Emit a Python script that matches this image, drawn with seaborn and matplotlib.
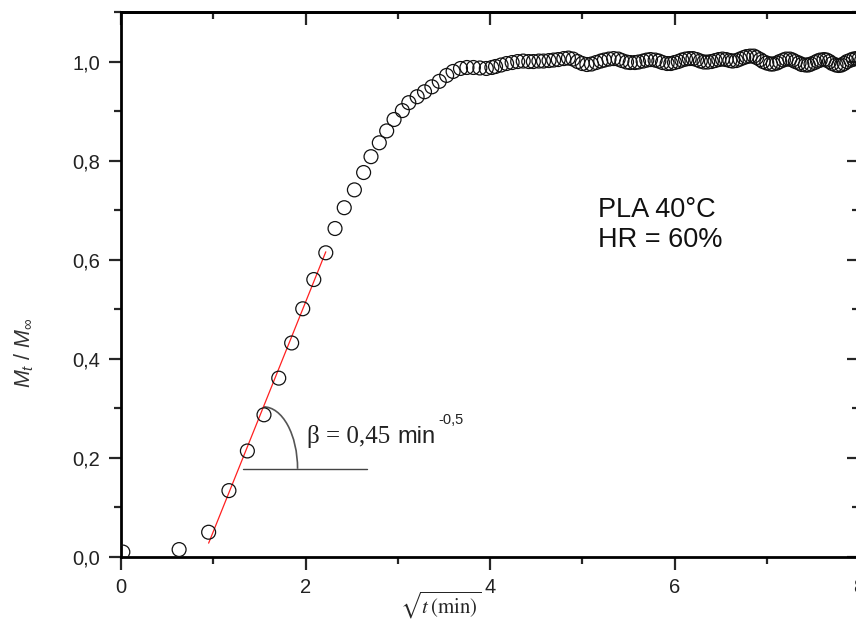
# Sorption kinetics of PLA at 40 C, HR = 60 %
# Mt/Minf against sqrt(t), with a linear fit on the first part

import matplotlib
matplotlib.use('Agg')
import matplotlib.pyplot as plt
from matplotlib.patches import Arc
from matplotlib.ticker import MultipleLocator, FuncFormatter
import seaborn as sns


# sqrt(t) values in min^0.5
sqrt_t = [
    0.02, 0.63, 0.95, 1.17, 1.37, 1.55, 1.71, 1.85, 1.97, 2.09,
    2.22, 2.32, 2.42, 2.53, 2.63, 2.71, 2.80, 2.88, 2.96, 3.05,
    3.12, 3.21, 3.29, 3.37, 3.45, 3.53, 3.60, 3.68, 3.75, 3.82,
    3.89, 3.96, 4.02, 4.06, 4.12, 4.18, 4.24, 4.30, 4.36, 4.42,
    4.47, 4.53, 4.58, 4.64, 4.69, 4.74, 4.80, 4.85, 4.90, 4.95,
    5.00, 5.05, 5.10, 5.15, 5.20, 5.24, 5.29, 5.34, 5.39, 5.43,
    5.48, 5.52, 5.57, 5.61, 5.66, 5.70, 5.74, 5.79, 5.83, 5.87,
    5.92, 5.96, 6.00, 6.04, 6.08, 6.12, 6.16, 6.20, 6.24, 6.28,
    6.32, 6.36, 6.40, 6.44, 6.48, 6.52, 6.56, 6.60, 6.63, 6.67,
    6.71, 6.75, 6.78, 6.82, 6.86, 6.89, 6.93, 6.96, 7.00, 7.04,
    7.07, 7.11, 7.14, 7.18, 7.21, 7.25, 7.28, 7.31, 7.35, 7.38,
    7.42, 7.45, 7.48, 7.52, 7.55, 7.58, 7.62, 7.65, 7.68, 7.71,
    7.75, 7.78, 7.81, 7.84, 7.87, 7.91, 7.94, 7.97, 8.00, 8.03,
]

# Mt / Minf
mt_minf = [
    0.010, 0.015, 0.050, 0.134, 0.214, 0.287, 0.361, 0.432, 0.501, 0.560,
    0.614, 0.663, 0.705, 0.741, 0.776, 0.808, 0.836, 0.860, 0.883, 0.901,
    0.917, 0.929, 0.939, 0.949, 0.960, 0.972, 0.980, 0.986, 0.988, 0.988,
    0.987, 0.986, 0.988, 0.990, 0.993, 0.996, 0.998, 1.000, 1.001, 1.000,
    1.000, 1.001, 1.001, 1.002, 1.003, 1.004, 1.006, 1.007, 1.005, 1.000,
    0.996, 0.994, 0.995, 0.998, 1.001, 1.003, 1.005, 1.006, 1.005, 1.002,
    0.999, 0.998, 0.998, 0.999, 1.001, 1.003, 1.004, 1.003, 1.001, 0.998,
    0.996, 0.996, 0.998, 1.000, 1.003, 1.005, 1.006, 1.006, 1.004, 1.001,
    0.999, 0.999, 1.000, 1.002, 1.004, 1.005, 1.004, 1.002, 1.001, 1.002,
    1.005, 1.008, 1.010, 1.011, 1.011, 1.008, 1.004, 1.000, 0.997, 0.995,
    0.995, 0.997, 1.000, 1.003, 1.005, 1.005, 1.003, 1.000, 0.997, 0.994,
    0.993, 0.993, 0.995, 0.998, 1.001, 1.003, 1.004, 1.003, 1.000, 0.996,
    0.993, 0.992, 0.993, 0.996, 1.000, 1.003, 1.005, 1.006, 1.005, 1.003,
]

# linear fit end points
fit_x = [0.95, 2.22]
fit_y = [0.028, 0.616]

x_ticks = [0, 2, 4, 6, 8]
y_ticks = [0.0, 0.2, 0.4, 0.6, 0.8, 1.0]


def comma(v, pos):
    return f'{v:.1f}'.replace('.', ',')


def main():
    sns.set_style('ticks')
    plt.rcParams['font.family'] = ['Liberation Sans', 'DejaVu Sans']
    plt.rcParams['mathtext.fontset'] = 'custom'
    plt.rcParams['mathtext.rm'] = 'Liberation Sans'
    plt.rcParams['mathtext.it'] = 'Liberation Sans:italic'

    fig = plt.figure(figsize=(8.56, 6.19), dpi=100)
    ax = fig.add_axes([121 / 856, 62 / 619, 738 / 856, 545 / 619])

    sns.lineplot(x=fit_x, y=fit_y, color='#ff2020', lw=0.9, ax=ax)
    sns.scatterplot(x=sqrt_t, y=mt_minf, marker='o', s=100,
                    facecolor='none', edgecolor='#111111', linewidth=0.9,
                    ax=ax, zorder=3)

    # angle marker
    ax.plot([1.32, 2.67], [0.178, 0.178], color='#444444', lw=1.0)
    ax.add_patch(Arc((1.546, 0.178), 2 * 0.368, 2 * 0.125, theta1=0, theta2=90,
                     color='#555555', lw=1.2))

    ax.text(2.02, 0.230, 'β = 0,45', family='Liberation Serif', fontsize=18,
            va='baseline', ha='left', color='#222222')
    ax.text(3.0, 0.230, 'min', fontsize=17, va='baseline', ha='left', color='#222222')
    ax.text(3.44, 0.269, '-0,5', fontsize=10.5, va='baseline', ha='left', color='#222222')

    ax.text(5.17, 0.687, 'PLA 40°C', fontsize=19.5, va='baseline', ha='left', color='#111111')
    ax.text(5.17, 0.626, 'HR = 60%', fontsize=19.5, va='baseline', ha='left', color='#111111')

    ax.set_xlim(0, 8)
    ax.set_ylim(0, 1.10)
    ax.set_xticks(x_ticks)
    ax.set_yticks(y_ticks)
    ax.xaxis.set_minor_locator(MultipleLocator(1))
    ax.yaxis.set_minor_locator(MultipleLocator(0.1))
    ax.yaxis.set_major_formatter(FuncFormatter(comma))
    ax.tick_params(which='major', direction='out', length=9, width=1.6,
                   labelsize=14.5, labelcolor='#222222', pad=6)
    ax.tick_params(which='minor', direction='out', length=5, width=1.6)

    # top / right: inward ticks, no labels
    top = ax.secondary_xaxis('top')
    top.set_xticks(x_ticks)
    top.xaxis.set_minor_locator(MultipleLocator(1))
    top.tick_params(which='major', direction='in', length=9, width=1.6, labeltop=False)
    top.tick_params(which='minor', direction='in', length=5, width=1.6)
    right = ax.secondary_yaxis('right')
    right.set_yticks(y_ticks)
    right.yaxis.set_minor_locator(MultipleLocator(0.1))
    right.tick_params(which='major', direction='in', length=9, width=1.6, labelright=False)
    right.tick_params(which='minor', direction='in', length=5, width=1.6)

    for a in (ax, top, right):
        for sp in a.spines.values():
            sp.set_linewidth(2.0)
            sp.set_color('black')

    ax.set_xlabel('')
    ax.set_ylabel('')
    fig.text(441 / 856, 1 - 605 / 619, r'$\sqrt{t\,(\mathrm{min})}$',
             math_fontfamily='stix', fontsize=15, ha='center', va='center')
    fig.text(24 / 856, 1 - 353 / 619, r'$M_t\ /\ M_\infty$', rotation=90,
             fontsize=15.5, ha='center', va='center', color='#333333')

    fig.savefig('out.png', dpi=100)


if __name__ == "__main__":
    main()
